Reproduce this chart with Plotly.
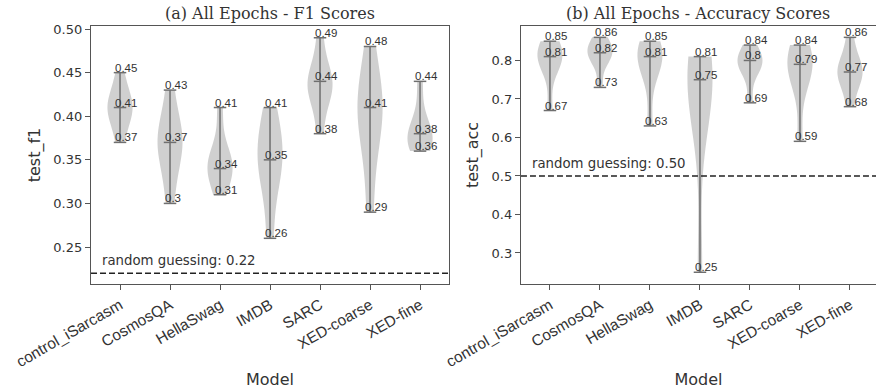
import numpy as np
import plotly.graph_objects as go

models = ["control_iSarcasm", "CosmosQA", "HellaSwag", "IMDB", "SARC", "XED-coarse", "XED-fine"]

f1_scores = {
    "control_iSarcasm": [0.37, 0.39, 0.40, 0.41, 0.41, 0.42, 0.43, 0.45],
    "CosmosQA": [0.30, 0.34, 0.36, 0.37, 0.38, 0.39, 0.43],
    "HellaSwag": [0.31, 0.33, 0.34, 0.34, 0.35, 0.36, 0.41],
    "IMDB": [0.26, 0.32, 0.34, 0.35, 0.37, 0.38, 0.41],
    "SARC": [0.38, 0.42, 0.43, 0.44, 0.44, 0.45, 0.49],
    "XED-coarse": [0.29, 0.36, 0.39, 0.41, 0.42, 0.43, 0.48],
    "XED-fine": [0.36, 0.37, 0.37, 0.38, 0.38, 0.40, 0.44],
}
acc_scores = {
    "control_iSarcasm": [0.67, 0.78, 0.80, 0.81, 0.82, 0.83, 0.85],
    "CosmosQA": [0.73, 0.80, 0.81, 0.82, 0.83, 0.84, 0.86],
    "HellaSwag": [0.63, 0.76, 0.80, 0.81, 0.82, 0.83, 0.85],
    "IMDB": [0.25, 0.68, 0.72, 0.75, 0.77, 0.79, 0.81],
    "SARC": [0.69, 0.77, 0.79, 0.80, 0.80, 0.81, 0.84],
    "XED-coarse": [0.59, 0.74, 0.77, 0.79, 0.80, 0.82, 0.84],
    "XED-fine": [0.68, 0.74, 0.76, 0.77, 0.78, 0.80, 0.86],
}
random_f1 = 0.22
random_acc = 0.50

FILL = "rgba(196,196,196,0.8)"
LINE = "#6f6f6f"
AX = "#555555"
TXT = "#333333"

fig = go.Figure()
annotations = []

def add_panel(scores, xa, ya, xref, yref):
    lx, ly = [], []
    for i, m in enumerate(models):
        vals = np.array(scores[m])
        pos = i + 1
        bw = np.std(vals, ddof=1) * len(vals) ** (-1 / 5)
        fig.add_trace(go.Violin(
            x=[pos] * len(vals), y=vals, xaxis=xa, yaxis=ya,
            width=0.5, spanmode="hard", scalemode="width", bandwidth=bw,
            points=False, box_visible=False, meanline_visible=False,
            fillcolor=FILL, line=dict(width=0, color=FILL),
            showlegend=False, hoverinfo="skip",
        ))
        vmin, vmax, vmed = vals.min(), vals.max(), float(np.median(vals))
        lx += [pos, pos, None]
        ly += [vmin, vmax, None]
        for v in (vmin, vmax, vmed):
            lx += [pos - 0.125, pos + 0.125, None]
            ly += [v, v, None]
            annotations.append(dict(
                x=pos - 0.14, y=v, xref=xref, yref=yref, text=str(round(float(v), 2)),
                showarrow=False, xanchor="left", yanchor="bottom", yshift=-3,
                font=dict(family="Liberation Sans, Arial", size=11.5, color=TXT),
            ))
    fig.add_trace(go.Scatter(x=lx, y=ly, xaxis=xa, yaxis=ya, mode="lines",
                             line=dict(color=LINE, width=1.5), showlegend=False,
                             hoverinfo="skip"))

add_panel(f1_scores, "x", "y", "x", "y")
add_panel(acc_scores, "x2", "y2", "x2", "y2")

# random guessing lines
fig.add_trace(go.Scatter(x=[0.42, 7.58], y=[random_f1, random_f1], xaxis="x", yaxis="y",
                         mode="lines", line=dict(color="#222222", width=1.4, dash="6px,3px"),
                         showlegend=False, hoverinfo="skip"))
fig.add_trace(go.Scatter(x=[0.42, 7.6], y=[random_acc, random_acc], xaxis="x2", yaxis="y2",
                         mode="lines", line=dict(color="#222222", width=1.4, dash="6px,3px"),
                         showlegend=False, hoverinfo="skip"))
annotations.append(dict(x=0.6, y=random_f1, xref="x", yref="y",
                        text=f"random guessing: {random_f1:.2f}", showarrow=False,
                        xanchor="left", yanchor="bottom", yshift=3,
                        font=dict(family="DejaVu Sans", size=13.3, color=TXT)))
annotations.append(dict(x=0.6, y=random_acc, xref="x2", yref="y2",
                        text=f"random guessing: {random_acc:.2f}", showarrow=False,
                        xanchor="left", yanchor="bottom", yshift=3,
                        font=dict(family="DejaVu Sans", size=13.3, color=TXT)))

# titles
annotations.append(dict(x=0.5, y=1.0, xref="x domain", yref="y domain", yshift=1,
                        text="(a) All Epochs - F1 Scores", showarrow=False,
                        xanchor="center", yanchor="bottom",
                        font=dict(family="DejaVu Serif", size=16, color=TXT)))
annotations.append(dict(x=0.5, y=1.0, xref="x2 domain", yref="y2 domain", yshift=1,
                        text="(b) All Epochs - Accuracy Scores", showarrow=False,
                        xanchor="center", yanchor="bottom",
                        font=dict(family="DejaVu Serif", size=16, color=TXT)))

tickfont_y = dict(family="DejaVu Sans", size=13, color=TXT)
tickfont_x = dict(family="Liberation Sans, Arial", size=15.5, color=TXT)
common_x = dict(tickmode="array", tickvals=list(range(1, 8)), ticktext=models,
                tickangle=-30, tickfont=tickfont_x, showgrid=False, zeroline=False,
                showline=True, linecolor=AX, linewidth=1.3, ticks="outside",
                ticklen=5, tickcolor=AX, mirror=True, automargin=False,
                title=dict(text="Model", font=dict(family="DejaVu Sans", size=16, color=TXT), standoff=4))
common_y = dict(showgrid=False, zeroline=False, showline=True, linecolor=AX, linewidth=1.3,
                ticks="outside", ticklen=5, tickcolor=AX, tickfont=tickfont_y, automargin=False)

fig.update_layout(
    width=876, height=392, margin=dict(l=0, r=0, t=0, b=0),
    plot_bgcolor="white", paper_bgcolor="white",
    xaxis=dict(domain=[0.1039, 0.5126], range=[0.42, 7.58], anchor="y", **common_x),
    xaxis2=dict(domain=[0.5947, 1.0], range=[0.42, 7.52], anchor="y2", **common_x),
    yaxis=dict(domain=[0.2755, 0.9337], range=[0.2076, 0.5035], anchor="x",
               tickvals=[0.25, 0.30, 0.35, 0.40, 0.45, 0.50], tickformat=".2f", mirror=True,
               title=dict(text="test_f1", font=dict(family="DejaVu Sans", size=16, color=TXT), standoff=8),
               **common_y),
    yaxis2=dict(domain=[0.2755, 0.9337], range=[0.2195, 0.8895], anchor="x2",
                tickvals=[0.3, 0.4, 0.5, 0.6, 0.7, 0.8], tickformat=".1f",
                title=dict(text="test_acc", font=dict(family="DejaVu Sans", size=16, color=TXT), standoff=8),
                **common_y),
    annotations=annotations,
)

fig.write_html("out.html")
